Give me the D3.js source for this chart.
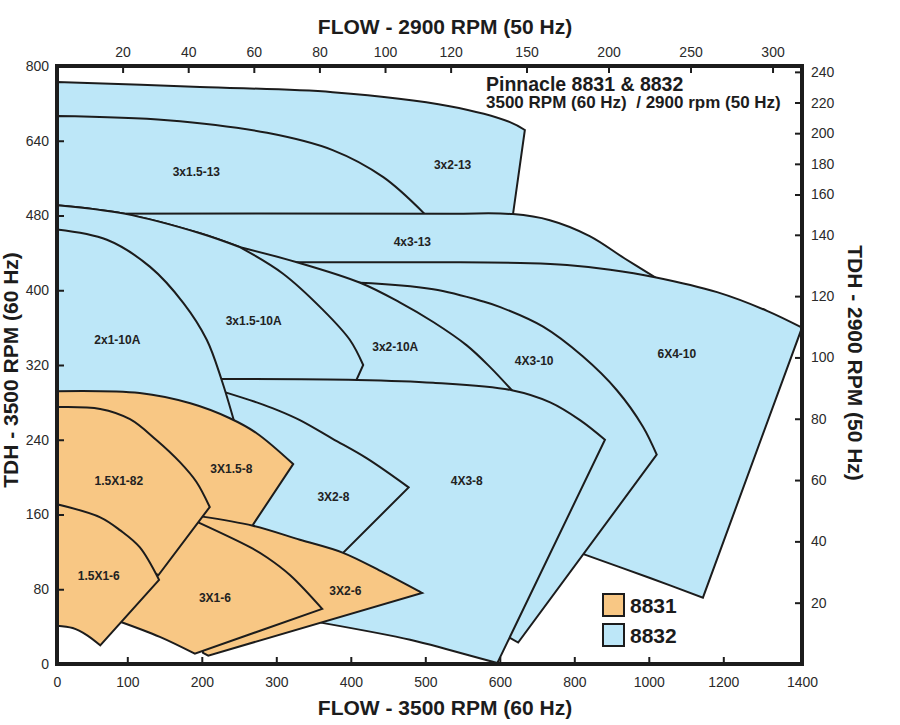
<!DOCTYPE html>
<html>
<head>
<meta charset="utf-8">
<script src="https://cdn.jsdelivr.net/npm/d3@7"></script>
<style>
  body { margin: 0; background: #fff; }
  svg { display: block; font-family: "Liberation Sans", Arial, sans-serif; }
</style>
</head>
<body>
<div id="chart"></div>
<script>
// printed scales are not linear: every tick step has the same length on paper
const xTicks = [0, 100, 200, 300, 400, 500, 600, 800, 1000, 1200, 1400];   // gpm @ 3500 rpm
const yTicks = [0, 80, 160, 240, 320, 400, 480, 640, 800];                  // ft @ 3500 rpm
const topTicks = [20, 40, 60, 80, 100, 120, 150, 200, 250, 300];            // m3/h @ 2900 rpm
const rightTicks = [20, 40, 60, 80, 100, 120, 140, 160, 180, 200, 220, 240]; // m @ 2900 rpm
const GPM_PER_M3H = 4.403;
const FT_PER_M = 3.281;
const BOTTOM_TICK_SHIFT = -4.2; // inner bottom ticks sit a little left on the original print

// region outlines, [gpm, ft]; each piece is one smooth run, corners between pieces
const s3x2_13 = [
  [[0, 766], [192, 755], [370, 744], [527, 714], [616, 680], [656, 663]],
  [[656, 663], [623, 478]],
  [[623, 478], [0, 478]]
];
const s3x1_5_13 = [
  [[0, 693], [148, 684], [282, 657], [370, 620], [438, 562], [493, 484]],
  [[493, 484], [500, 478]],
  [[500, 478], [0, 478]]
];
const s4x3_13 = [
  [[0, 484], [527, 484], [624, 483], [723, 475], [830, 458], [924, 434], [1005, 414]],
  [[1005, 414], [885, 415]],
  [[885, 415], [0, 422]]
];
const s6x4_10 = [
  [[0, 430], [322, 430], [527, 430], [670, 429], [769, 427], [885, 422], [1005, 414], [1172, 398], [1306, 378], [1400, 360]],
  [[1400, 360], [1134, 71]],
  [[1134, 71], [992, 92], [817, 117]],
  [[817, 117], [750, 133]],
  [[750, 133], [0, 133]]
];
const s4x3_10 = [
  [[0, 408], [407, 408], [505, 401], [572, 388], [595, 382], [705, 361], [812, 329], [903, 293], [973, 254], [1010, 224]],
  [[1010, 224], [638, 23]],
  [[638, 23], [616, 28]],
  [[616, 28], [527, 68]],
  [[527, 68], [0, 68]]
];
const s3x2_10a = [
  [[0, 502], [90, 484], [192, 461], [246, 446]],
  [[246, 446], [322, 430], [407, 408], [460, 387], [505, 366], [550, 341], [581, 318], [621, 293]],
  [[621, 293], [595, 272]],
  [[595, 272], [0, 272]]
];
const s3x1_5_10a = [
  [[0, 502], [90, 484], [192, 461], [246, 446]],
  [[246, 446], [303, 418], [357, 379], [393, 347], [411, 320]],
  [[411, 320], [398, 297]],
  [[398, 297], [0, 297]]
];
const s4x3_8 = [
  [[0, 304], [221, 305], [403, 304], [505, 301], [621, 293], [724, 280], [804, 261], [871, 240]],
  [[871, 240], [591, 1]],
  [[591, 1], [527, 15], [474, 26], [356, 44]],
  [[356, 44], [259, 68]],
  [[259, 68], [0, 68]]
];
const s3x2_8 = [
  [[225, 291], [268, 280], [295, 272], [326, 261], [370, 241], [416, 220], [472, 189]],
  [[472, 189], [384, 119]],
  [[384, 119], [353, 79]],
  [[353, 79], [192, 79]],
  [[192, 79], [192, 283]],
  [[192, 283], [225, 291]]
];
const s2x1_10a = [
  [[0, 465], [67, 454], [125, 425], [170, 386], [201, 347], [221, 304], [238, 259]],
  [[238, 259], [235, 229]],
  [[235, 229], [0, 229]]
];
const s3x1_5_8 = [
  [[0, 292], [111, 290], [179, 279], [232, 263], [268, 247], [317, 214]],
  [[317, 214], [263, 149]],
  [[263, 149], [246, 133]],
  [[246, 133], [0, 133]]
];
const s3x2_6 = [
  [[193, 158], [263, 148], [326, 133], [384, 119], [438, 98], [490, 76]],
  [[490, 76], [203, 9]],
  [[203, 9], [196, 12]],
  [[196, 12], [185, 68]],
  [[185, 68], [165, 143]],
  [[165, 143], [193, 158]]
];
const s3x1_6 = [
  [[191, 151], [259, 125], [282, 114], [313, 95], [356, 59]],
  [[356, 59], [185, 11]],
  [[185, 11], [138, 29], [82, 46]],
  [[82, 46], [71, 52]],
  [[71, 52], [78, 111]],
  [[78, 111], [138, 186]],
  [[138, 186], [191, 151]]
];
const s1_5x1_82 = [
  [[0, 275], [58, 273], [98, 262], [133, 240], [165, 216], [187, 195], [205, 168]],
  [[205, 168], [136, 95]],
  [[136, 95], [111, 106]],
  [[111, 106], [0, 106]]
];
const s1_5x1_6 = [
  [[0, 171], [58, 157], [85, 143], [111, 125], [137, 90]],
  [[137, 90], [58, 20]],
  [[58, 20], [40, 31], [21, 38.5], [0, 41]],
  [[0, 41], [0, 171]]
];

// back to front
const regions = [
  {name: "3x2-13",    model: "8832", shape: s3x2_13,    label: [531, 588]},
  {name: "3x1.5-13",  model: "8832", shape: s3x1_5_13,  label: [187, 573]},
  {name: "4x3-13",    model: "8832", shape: s4x3_13,    label: [477, 452]},
  {name: "6X4-10",    model: "8832", shape: s6x4_10,    label: [1064, 332]},
  {name: "4X3-10",    model: "8832", shape: s4x3_10,    label: [681, 325]},
  {name: "3x2-10A",   model: "8832", shape: s3x2_10a,   label: [454, 340]},
  {name: "3x1.5-10A", model: "8832", shape: s3x1_5_10a, label: [264, 367]},
  {name: "4X3-8",     model: "8832", shape: s4x3_8,     label: [550, 196]},
  {name: "3X2-8",     model: "8832", shape: s3x2_8,     label: [371, 179]},
  {name: "2x1-10A",   model: "8832", shape: s2x1_10a,   label: [81, 347]},
  {name: "3X1.5-8",   model: "8831", shape: s3x1_5_8,   label: [234, 209]},
  {name: "3X2-6",     model: "8831", shape: s3x2_6,     label: [387, 78]},
  {name: "3X1-6",     model: "8831", shape: s3x1_6,     label: [212, 71]},
  {name: "1.5X1-82",  model: "8831", shape: s1_5x1_82,  label: [83, 196]},
  {name: "1.5X1-6",   model: "8831", shape: s1_5x1_6,   label: [56, 95]}
];
const models = ["8831", "8832"];
const modelColors = ["#f8c784", "#bde7f8"];

const margin = {top: 66, left: 57};
const W = 745, H = 598;
const ink = "#1c1c1c";

const svg = d3.select("#chart").append("svg")
    .attr("width", 900)
    .attr("height", 725);

const g = svg.append("g").attr("transform", `translate(${margin.left},${margin.top})`);

// polylinear scales, equal steps between printed ticks
const x = d3.scaleLinear().domain(xTicks).range(xTicks.map((d, i) => i * W / (xTicks.length - 1)));
const y = d3.scaleLinear().domain(yTicks).range(yTicks.map((d, i) => H - i * H / (yTicks.length - 1)));
const xTop = d3.scaleLinear().domain(xTicks.map(d => d / GPM_PER_M3H)).range(x.range());
const yRight = d3.scaleLinear().domain(yTicks.map(d => d / FT_PER_M)).range(y.range());
const xBottom = x.copy().range(x.range().map((r, i, a) => (i === 0 || i === a.length - 1) ? r : r + BOTTOM_TICK_SHIFT));
const color = d3.scaleOrdinal().domain(models).range(modelColors);

const smooth = d3.line()
    .x(d => x(d[0]))
    .y(d => y(d[1]))
    .curve(d3.curveCatmullRom.alpha(0.5));

function outline(pieces) {
    return pieces.map((p, i) => i === 0 ? smooth(p) : smooth(p).replace(/^M/, "L")).join("") + "Z";
}

g.selectAll(".region")
    .data(regions)
    .join("path")
    .attr("class", "region")
    .attr("d", d => outline(d.shape))
    .attr("fill", d => color(d.model))
    .attr("stroke", ink)
    .attr("stroke-width", 2)
    .attr("stroke-linejoin", "miter")
    .attr("stroke-miterlimit", 4);

g.selectAll(".region-label")
    .data(regions)
    .join("text")
    .attr("class", "region-label")
    .attr("x", d => x(d.label[0]))
    .attr("y", d => y(d.label[1]))
    .attr("dy", "0.36em")
    .attr("text-anchor", "middle")
    .attr("font-size", 12)
    .attr("font-weight", "bold")
    .attr("fill", "#222")
    .text(d => d.name);

// axes, ticks pointing into the frame
function styleAxis(sel) {
    sel.select(".domain").remove();
    sel.selectAll(".tick line").attr("stroke", ink).attr("stroke-width", 2);
    sel.selectAll(".tick text")
        .attr("fill", "#2a2a2a")
        .attr("font-size", 14)
        .attr("font-family", "'Liberation Sans', Arial, sans-serif");
}

g.append("g")
    .attr("transform", `translate(0,${H})`)
    .call(d3.axisBottom(xBottom).tickValues(xTicks).tickFormat(d3.format("d")).tickSizeInner(-7).tickSizeOuter(0).tickPadding(13))
    .call(styleAxis);

g.append("g")
    .call(d3.axisLeft(y).tickValues(yTicks).tickFormat(d3.format("d")).tickSizeInner(-7).tickSizeOuter(0).tickPadding(8))
    .call(styleAxis);

g.append("g")
    .call(d3.axisTop(xTop).tickValues(topTicks).tickFormat(d3.format("d")).tickSizeInner(-7).tickSizeOuter(0).tickPadding(9))
    .call(styleAxis);

g.append("g")
    .attr("transform", `translate(${W},0)`)
    .call(d3.axisRight(yRight).tickValues(rightTicks).tickFormat(d3.format("d")).tickSizeInner(-7).tickSizeOuter(0).tickPadding(9))
    .call(styleAxis);

// frame
g.append("rect")
    .attr("width", W)
    .attr("height", H)
    .attr("fill", "none")
    .attr("stroke", ink)
    .attr("stroke-width", 4);

// axis titles
const titleStyle = sel => sel
    .attr("text-anchor", "middle")
    .attr("font-size", 21)
    .attr("font-weight", "bold")
    .attr("fill", ink);

svg.append("text").attr("x", 445).attr("y", 34).call(titleStyle).text("FLOW - 2900 RPM (50 Hz)");
svg.append("text").attr("x", 445).attr("y", 715).call(titleStyle).text("FLOW - 3500 RPM (60 Hz)");
svg.append("text").attr("transform", "translate(18,370) rotate(-90)").call(titleStyle).text("TDH - 3500 RPM (60 Hz)");
svg.append("text").attr("transform", "translate(848,363) rotate(90)").call(titleStyle).text("TDH - 2900 RPM (50 Hz)");

// heading inside the plot
svg.append("text")
    .attr("x", 486).attr("y", 91)
    .attr("font-size", 19.5).attr("font-weight", "bold").attr("fill", ink)
    .text("Pinnacle 8831 & 8832");
svg.append("text")
    .attr("x", 486).attr("y", 108)
    .attr("font-size", 17).attr("font-weight", "bold").attr("fill", ink)
    .style("white-space", "pre")
    .text("3500 RPM (60 Hz)  / 2900 rpm (50 Hz)");

// legend
const legend = svg.append("g").attr("transform", "translate(603,594)");
const item = legend.selectAll("g")
    .data(models)
    .join("g")
    .attr("transform", (d, i) => `translate(0,${i * 30})`);
item.append("rect")
    .attr("width", 21).attr("height", 22)
    .attr("fill", d => color(d))
    .attr("stroke", ink).attr("stroke-width", 2);
item.append("text")
    .attr("x", 27).attr("y", 19)
    .attr("font-size", 21).attr("font-weight", "bold").attr("fill", ink)
    .text(d => d);
</script>
</body>
</html>
